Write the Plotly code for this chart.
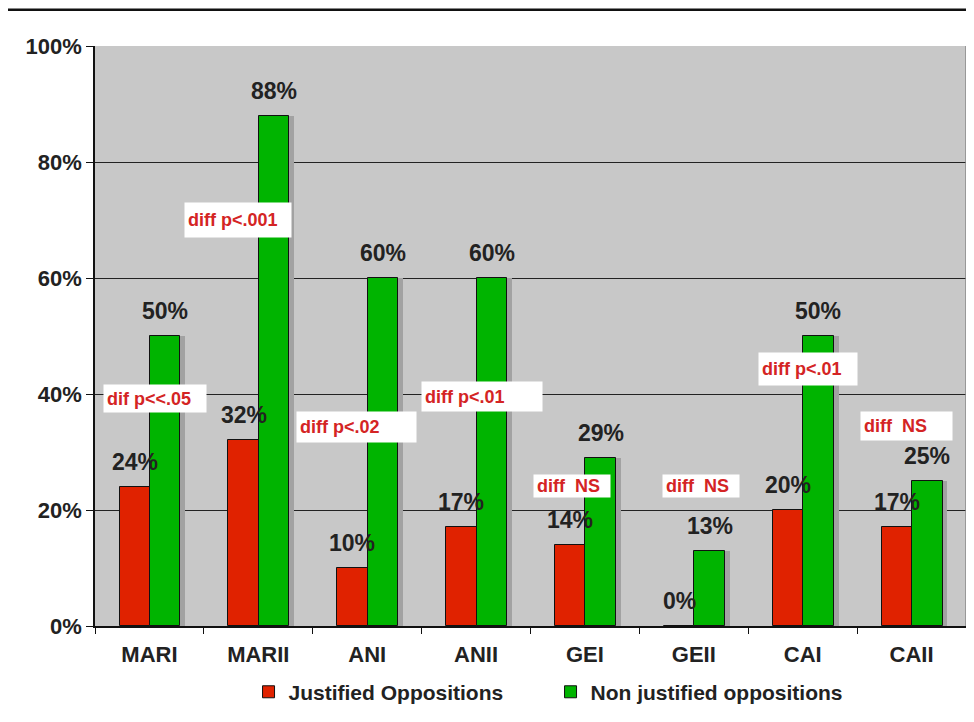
import plotly.graph_objects as go

categories = ["MARI", "MARII", "ANI", "ANII", "GEI", "GEII", "CAI", "CAII"]
justified = [24, 32, 10, 17, 14, 0, 20, 17]
non_justified = [50, 88, 60, 60, 29, 13, 50, 25]
series_names = ["Justified Oppositions", "Non justified oppositions"]
y_ticks = [0, 20, 40, 60, 80, 100]

# significance notes: (text, x position in category units, y position in %, box w, box h)
notes = [
    ("dif p<<.05", 0.05, 39.2, 106, 27),
    ("diff p<.001", 0.81, 70.0, 110, 34),
    ("diff p<.02", 1.90, 34.3, 123, 30),
    ("diff p<.01", 3.05, 39.6, 124, 29),
    ("diff  NS", 3.885, 24.1, 80, 22),
    ("diff  NS", 5.07, 24.1, 80, 22),
    ("diff p<.01", 6.05, 44.3, 102, 32),
    ("diff  NS", 6.95, 34.5, 95, 28),
]

FONT = "Arial, Liberation Sans, sans-serif"
RED = "#e02200"
GREEN = "#00b400"
SHADOW = "#a2a2a2"
BW = 0.28
offsets = [-0.275, 0.005]
shadow_dx = 0.045

fig = go.Figure()
vals = [justified, non_justified]
colors = [RED, GREEN]

for vs, off in zip(vals, offsets):
    fig.add_trace(go.Bar(
        x=categories, y=vs, width=BW, offset=off + shadow_dx,
        marker=dict(color=SHADOW, line=dict(width=0)),
        showlegend=False, hoverinfo="skip",
    ))
for vs, off, col, name in zip(vals, offsets, colors, series_names):
    fig.add_trace(go.Bar(
        x=categories, y=vs, width=BW, offset=off, name=name,
        marker=dict(color=col, line=dict(color="#111111", width=1)),
    ))

annotations = []
for vs, off in zip(vals, offsets):
    for i, v in enumerate(vs):
        annotations.append(dict(
            x=i + off + BW / 2, y=v, xref="x", yref="y",
            text=f"{v}%", showarrow=False, yanchor="middle", yshift=25,
            font=dict(family=FONT, size=23, color="#222222", weight="bold"),
        ))
for text, nx, ny, w, h in notes:
    annotations.append(dict(
        x=nx, y=ny, xref="x", yref="y", text=text, showarrow=False,
        xanchor="center", yanchor="middle", align="left", valign="middle",
        width=w - 10, height=h - 6, borderpad=3, bgcolor="white",
        font=dict(family=FONT, size=18, color="#d42424", weight="bold"),
    ))

fig.update_layout(
    width=958, height=706,
    margin=dict(l=87, r=0, t=38, b=88),
    paper_bgcolor="white", plot_bgcolor="#c8c8c8",
    barmode="overlay", bargap=0,
    font=dict(family=FONT, color="#222222"),
    annotations=annotations,
    showlegend=True,
    legend=dict(
        orientation="h", x=0.523, xanchor="center", y=-0.114, yanchor="middle",
        font=dict(family=FONT, size=21, color="#222222", weight="bold"),
        bgcolor="rgba(0,0,0,0)", traceorder="normal",
        entrywidth=257, entrywidthmode="pixels",
    ),
    shapes=[
        dict(type="line", xref="paper", yref="paper", x0=-0.1, x1=1.01,
             y0=1.0625, y1=1.0625, line=dict(color="#111111", width=2.5)),
        dict(type="line", xref="paper", yref="paper", x0=1, x1=1,
             y0=0, y1=1, line=dict(color="#888888", width=1.5)),
    ],
)
fig.update_xaxes(
    type="category", categoryorder="array", categoryarray=categories,
    range=[-0.5, len(categories) - 0.5],
    showline=True, linecolor="#111111", linewidth=1.5,
    ticks="outside", tickson="boundaries", ticklen=6, tickcolor="#111111",
    ticklabelstandoff=8,
    tickfont=dict(family=FONT, size=22, color="#222222", weight="bold"),
    showgrid=False,
)
fig.update_yaxes(
    range=[0, 100], tickvals=y_ticks, ticktext=[f"{t}%" for t in y_ticks],
    showline=True, linecolor="#111111", linewidth=1.5,
    ticks="outside", ticklen=7, tickcolor="#111111",
    showgrid=True, gridcolor="#222222", gridwidth=1.2,
    zeroline=False,
    tickfont=dict(family=FONT, size=22, color="#222222", weight="bold"),
)

fig.write_html("out.html")
